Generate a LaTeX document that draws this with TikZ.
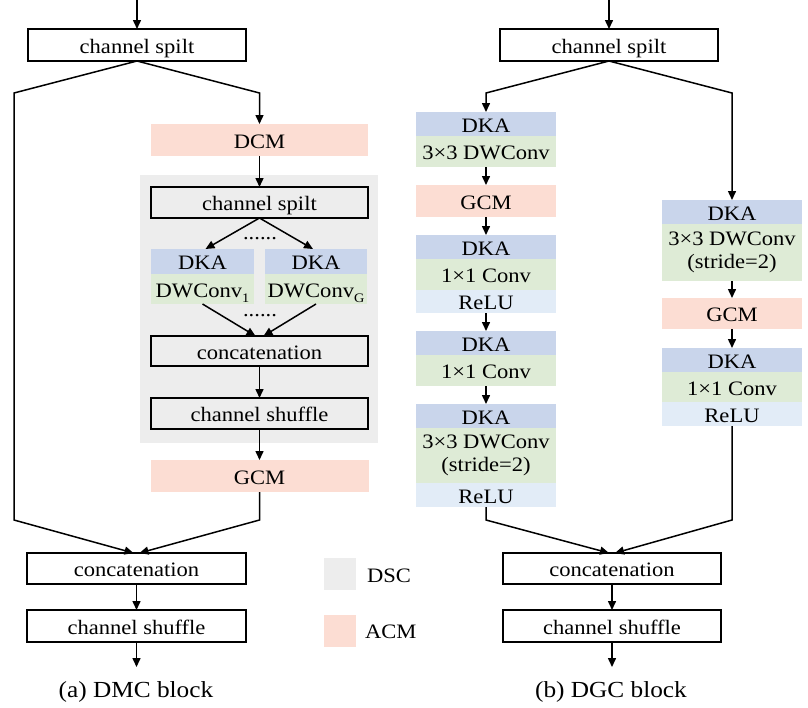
\documentclass[tikz,border=0pt]{standalone}
\usepackage{fontspec}
\setmainfont{Liberation Serif}[FakeStretch=1.1]
\usetikzlibrary{arrows.meta}

\definecolor{dkablue}{HTML}{C9D5EB}
\definecolor{convgreen}{HTML}{DEEBD6}
\definecolor{relublue}{HTML}{E2ECF7}
\definecolor{acmpink}{HTML}{FCDDD3}
\definecolor{dscgray}{HTML}{EDEDED}

% lowered small index after a word
\newcommand\lowsub[1]{\raisebox{-0.28em}{\fontsize{13}{13}\selectfont #1}}

\tikzset{
  base/.style={inner sep=0pt, outer sep=0pt, text height=16pt, text depth=0pt},
  framebox/.style={base, draw=black, line width=1.5pt, minimum width=218pt, minimum height=32pt},
  band/.style={base, minimum width=140pt},
  multiband/.style={inner sep=0pt, outer sep=0pt, align=center, minimum width=140pt},
  dkaband/.style={band, fill=dkablue, minimum height=24pt},
  convband/.style={band, fill=convgreen, minimum height=31pt},
  reluband/.style={band, fill=relublue, minimum height=24pt},
  acmband/.style={band, fill=acmpink, minimum height=32pt},
  dots/.style={inner sep=0pt, outer sep=0pt, text height=3pt, text depth=0pt},
  conn/.style={line width=1.5pt, -{Triangle[length=9pt,width=8pt]}},
  caption/.style={base, font=\fontsize{23}{26}\selectfont},
}

\begin{document}
\begin{tikzpicture}[x=1pt, y=-1pt, font=\fontsize{20.5}{23}\selectfont]
\useasboundingbox (0,0) rectangle (808,707);

% ---------------- (a) DMC block ----------------
\coordinate (inA) at (137,0);
\node[framebox] (splitA) at (137,45) {channel spilt};
\node[acmband, minimum width=217pt] (dcm) at (259.5,140) {DCM};

% DSC region
\node[fill=dscgray, inner sep=0pt, minimum width=238pt, minimum height=268pt] (dsc) at (259,309) {};
\node[framebox, fill=dscgray, minimum width=217pt, minimum height=31pt] (splitB) at (259.5,202.5) {channel spilt};
\node[dkaband, minimum width=103pt, minimum height=25pt] (dkaL) at (202.5,261.5) {DKA};
\node[convband, minimum width=103pt, minimum height=30pt] (dwL) at (202.5,289) {DWConv\lowsub{1}};
\node[dkaband, minimum width=102pt, minimum height=25pt] (dkaR) at (316,261.5) {DKA};
\node[convband, minimum width=102pt, minimum height=30pt] (dwR) at (316,289) {DWConv\lowsub{G}};
\node[dots] (dotsTop) at (260,237.5) {......};
\node[dots] (dotsBot) at (260,314.5) {......};
\node[framebox, fill=dscgray, minimum width=217pt, minimum height=30pt] (catB) at (259.5,351) {concatenation};
\node[framebox, fill=dscgray, minimum width=217pt, minimum height=31pt] (shufB) at (259.5,413.5) {channel shuffle};

\node[acmband, minimum width=218pt] (gcmA) at (259.5,476) {GCM};
\node[framebox, minimum width=219pt, minimum height=31pt] (catA) at (136.5,568.5) {concatenation};
\node[framebox, minimum width=219pt] (shufA) at (136.5,626) {channel shuffle};
\coordinate (outA) at (136.5,667);
\node[caption] (capA) at (136,689) {(a) DMC block};

\draw[conn] (inA) -- (splitA.north);
\draw[conn] (splitA.south) -- (14,93) -- (14,520) -- ([xshift=-3pt]catA.north);
\draw[conn] (splitA.south) -- (259.5,93) -- (dcm.north);
\draw[conn] (dcm.south) -- (splitB.north);
\draw[conn] (splitB.south) -- ([xshift=3pt]dkaL.north);
\draw[conn] (splitB.south) -- ([xshift=-3pt]dkaR.north);
\draw[conn] (dwL.south) -- ([xshift=-4pt]catB.north);
\draw[conn] (dwR.south) -- ([xshift=4pt]catB.north);
\draw[conn] (catB.south) -- (shufB.north);
\draw[conn] (shufB.south) -- (gcmA.north);
\draw[conn] (gcmA.south) -- (259.5,520) -- ([xshift=3pt]catA.north);
\draw[conn] (catA.south) -- (shufA.north);
\draw[conn] (shufA.south) -- (outA);

% ---------------- legend ----------------
\node[fill=dscgray, inner sep=0pt, minimum size=32pt] (keyDSC) at (340,574) {};
\node[base, anchor=west] (keyDSCtext) at (367,574) {DSC};
\node[fill=acmpink, inner sep=0pt, minimum size=32pt] (keyACM) at (340,631) {};
\node[base, anchor=west] (keyACMtext) at (365,630) {ACM};

% ---------------- (b) DGC block ----------------
\coordinate (inB) at (609,0);
\node[framebox] (splitC) at (609,45) {channel spilt};

% left branch
\node[dkaband] (a1) at (486,124) {DKA};
\node[convband] (a2) at (486,151.5) {3×3 DWConv};
\node[acmband] (gcmB) at (486,201) {GCM};
\node[dkaband] (b1) at (486,247) {DKA};
\node[convband] (b2) at (486,274.5) {1×1 Conv};
\node[reluband, minimum height=23pt] (b3) at (486,301.5) {ReLU};
\node[dkaband] (c1) at (486,343) {DKA};
\node[convband] (c2) at (486,370.5) {1×1 Conv};
\node[dkaband] (d1) at (486,416) {DKA};
\node[multiband, fill=convgreen, minimum height=55pt] (d2) at (486,455.5) {3×3 DWConv\\(stride=2)};
\node[reluband] (d3) at (486,495) {ReLU};

% right branch
\node[dkaband] (e1) at (732,212) {DKA};
\node[multiband, fill=convgreen, minimum height=57pt] (e2) at (732,252.5) {3×3 DWConv\\(stride=2)};
\node[acmband, minimum height=31pt] (gcmC) at (732,313.5) {GCM};
\node[dkaband] (f1) at (732,360) {DKA};
\node[convband, minimum height=30pt] (f2) at (732,387) {1×1 Conv};
\node[reluband] (f3) at (732,414) {ReLU};

\node[framebox, minimum height=31pt] (catC) at (612,568.5) {concatenation};
\node[framebox] (shufC) at (612,626) {channel shuffle};
\coordinate (outB) at (612,667);
\node[caption] (capB) at (611,689) {(b) DGC block};

\draw[conn] (inB) -- (splitC.north);
\draw[conn] (splitC.south) -- (486,93) -- (a1.north);
\draw[conn] (splitC.south) -- (732,93) -- (e1.north);
\draw[conn] (a2.south) -- (gcmB.north);
\draw[conn] (gcmB.south) -- (b1.north);
\draw[conn] (b3.south) -- (c1.north);
\draw[conn] (c2.south) -- (d1.north);
\draw[conn] (d3.south) -- (486,520) -- ([xshift=-3pt]catC.north);
\draw[conn] (e2.south) -- (gcmC.north);
\draw[conn] (gcmC.south) -- (f1.north);
\draw[conn] (f3.south) -- (732,520) -- ([xshift=3pt]catC.north);
\draw[conn] (catC.south) -- (shufC.north);
\draw[conn] (shufC.south) -- (outB);
\end{tikzpicture}
\end{document}
